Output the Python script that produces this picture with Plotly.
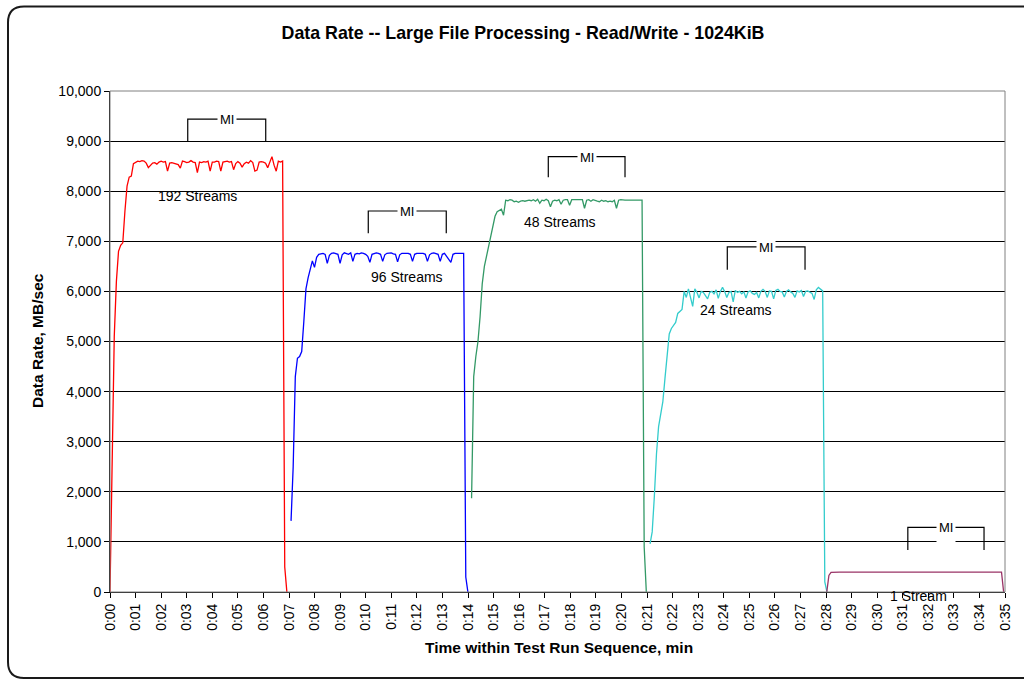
import plotly.graph_objects as go

# ---------------- data (5-second samples, time in minutes) ----------------
step_min = 5 / 60

s192_start = 0.0
s192_values = [0, 2900, 5100, 6200, 6800, 6920, 6970, 7600, 8100, 8280, 8300, 8550,
               8580, 8600, 8590, 8610, 8600, 8560, 8470, 8520, 8560, 8570, 8540, 8580,
               8600, 8580, 8590, 8400, 8560, 8570, 8560, 8550, 8530, 8460, 8600, 8590,
               8570, 8580, 8610, 8580, 8570, 8370, 8580, 8570, 8590, 8580, 8600, 8400,
               8580, 8580, 8600, 8590, 8400, 8580, 8590, 8600, 8580, 8590, 8430, 8550,
               8590, 8560, 8480, 8550, 8580, 8560, 8610, 8570, 8400, 8420, 8580, 8590,
               8580, 8560, 8470, 8600, 8690, 8520, 8400, 8600, 8580, 8600, 500, 0]

s96_start = 7.08
s96_values = [1420, 2500, 4300, 4665, 4700, 4800, 5400, 6050, 6270, 6450, 6610, 6480,
              6680, 6740, 6750, 6760, 6740, 6560, 6720, 6760, 6770, 6760, 6740, 6560,
              6730, 6770, 6760, 6740, 6770, 6600, 6740, 6760, 6750, 6770, 6760, 6740,
              6700, 6580, 6740, 6760, 6770, 6760, 6740, 6600, 6730, 6760, 6760, 6770,
              6750, 6740, 6590, 6730, 6760, 6760, 6750, 6760, 6740, 6600, 6740, 6760,
              6760, 6760, 6760, 6740, 6600, 6730, 6760, 6770, 6760, 6740, 6600, 6740,
              6760, 6700, 6640, 6580, 6740, 6760, 6760, 6760, 6760, 6760, 300, 0]

s48_start = 14.14
s48_values = [1870, 4300, 4700, 5000, 5500, 6150, 6500, 6700, 6950, 7150, 7330, 7500,
              7590, 7620, 7640, 7520, 7820, 7810, 7830, 7820, 7790, 7800, 7780, 7800,
              7810, 7800, 7810, 7820, 7810, 7830, 7800, 7840, 7760, 7820, 7810, 7840,
              7810, 7690, 7800, 7820, 7810, 7830, 7740, 7820, 7830, 7830, 7720, 7830,
              7830, 7830, 7830, 7830, 7830, 7660, 7820, 7830, 7800, 7830, 7810, 7800,
              7790, 7820, 7800, 7810, 7790, 7800, 7790, 7820, 7660, 7820, 7830, 7820,
              7820, 7820, 7820, 7820, 7820, 7820, 7820, 7820, 7820, 900, 0]

s24_start = 21.12
s24_values = [960, 1200, 1900, 2750, 3300, 3580, 3800, 4270, 4800, 5150, 5260, 5330,
              5380, 5560, 5600, 5640, 6000, 5880, 6050, 5900, 5700, 6050, 5980, 5870,
              6000, 5980, 5920, 5850, 5980, 6000, 5950, 6030, 5860, 6000, 6080, 6000,
              5880, 5980, 6000, 5790, 6020, 5980, 6000, 5950, 5990, 5870, 5990, 6010,
              5960, 5940, 5980, 5870, 6000, 6040, 6000, 5880, 6010, 6000, 5850, 6020,
              6040, 6000, 5990, 5890, 6000, 6030, 5990, 5960, 5880, 6010, 5990, 6020,
              5900, 6000, 6010, 5990, 5960, 5840, 6030, 6080, 6040, 6010, 200, 0]

s1_start = 28.03
s1_values = [0, 330, 390, 395, 395, 395, 395, 395, 395, 395, 395, 395,
             395, 395, 395, 395, 395, 395, 395, 395, 395, 395, 395, 395,
             395, 395, 395, 395, 395, 395, 395, 395, 395, 395, 395, 395,
             395, 395, 395, 395, 395, 395, 395, 395, 395, 395, 395, 395,
             395, 395, 395, 395, 395, 395, 395, 395, 395, 395, 395, 395,
             395, 395, 395, 395, 395, 395, 395, 395, 395, 395, 395, 395,
             395, 395, 395, 395, 395, 395, 395, 395, 395, 395, 395, 0]

series_names = ["192 Streams", "96 Streams", "48 Streams", "24 Streams", "1 Stream"]
series_starts = [s192_start, s96_start, s48_start, s24_start, s1_start]
series_values = [s192_values, s96_values, s48_values, s24_values, s1_values]
series_colors = ["#FF0000", "#0000FF", "#339966", "#33CCCC", "#993366"]

# stream labels (time, rate)
label_x = [3.44, 11.62, 17.6, 24.48, 31.6]
label_y = [7900, 6290, 7385, 5630, 0]
label_shift = [0, 0, 0, 0, -4]

# measurement interval brackets
mi_start = [3.04, 10.1, 17.14, 24.14, 31.2]
mi_end = [6.09, 13.15, 20.14, 27.18, 34.18]
mi_top = [9440, 7605, 8690, 6890, 1290]
mi_bottom = [9000, 7160, 8280, 6430, 840]

x_tick_vals = list(range(0, 36))
x_tick_text = ["0:%02d" % m for m in x_tick_vals]

title_text = "Data Rate -- Large File Processing - Read/Write - 1024KiB"
x_title = "Time within Test Run Sequence, min"
y_title = "Data Rate, MB/sec"

FONT = "Arial, 'Liberation Sans', sans-serif"

# ---------------- figure ----------------
fig = go.Figure()
for name, start, vals, col in zip(series_names, series_starts, series_values, series_colors):
    xs = [start + i * step_min for i in range(len(vals))]
    fig.add_trace(go.Scatter(x=xs, y=vals, mode="lines", name=name,
                             line=dict(color=col, width=1.3), showlegend=False,
                             cliponaxis=False, hoverinfo="skip"))

for name, lx, ly, sh in zip(series_names, label_x, label_y, label_shift):
    fig.add_annotation(x=lx, y=ly, yshift=sh, text=name, showarrow=False,
                       xanchor="center", yanchor="middle",
                       font=dict(family=FONT, size=14, color="#000000"))

for x0, x1, yt, yb in zip(mi_start, mi_end, mi_top, mi_bottom):
    fig.add_shape(type="path",
                  path=f"M {x0},{yb} L {x0},{yt} L {x1},{yt} L {x1},{yb}",
                  line=dict(color="#000000", width=1.2), layer="above")
    fig.add_annotation(x=(x0 + x1) / 2, y=yt, text="MI", showarrow=False,
                       xanchor="center",
                       font=dict(family=FONT, size=13, color="#000000"),
                       bgcolor="#FFFFFF", borderpad=2, height=26, valign="top",
                       yanchor="top", yshift=10)

# plot area border (gray)
fig.add_shape(type="rect", xref="paper", yref="paper", x0=0, x1=1, y0=0, y1=1,
              line=dict(color="#808080", width=1), layer="above")

# outer rounded frame (pixel -> paper conversion); right side runs off the page
L, T, PW, PH = 110, 91, 895, 501
def px(x):
    return (x - L) / PW
def py(y):
    return (T + PH - y) / PH
fl, ft, fr, fb, rad = 8, 6.5, 1060, 678, 16
frame_path = (f"M {px(fl)},{py(ft + rad)} Q {px(fl)},{py(ft)} {px(fl + rad)},{py(ft)} "
              f"L {px(fr)},{py(ft)} M {px(fr)},{py(fb)} "
              f"L {px(fl + rad)},{py(fb)} Q {px(fl)},{py(fb)} {px(fl)},{py(fb - rad)} "
              f"L {px(fl)},{py(ft + rad)}")
fig.add_shape(type="path", xref="paper", yref="paper", path=frame_path,
              line=dict(color="#1a1a1a", width=2), layer="above")

fig.add_annotation(xref="paper", yref="paper", x=px(559), y=py(647),
                   xanchor="center", yanchor="middle", text="<b>" + x_title + "</b>",
                   showarrow=False, font=dict(family=FONT, size=15.5, color="#000000"))
fig.add_annotation(xref="paper", yref="paper", x=px(37), y=py(341),
                   xanchor="center", yanchor="middle", text="<b>" + y_title + "</b>",
                   showarrow=False, textangle=-90,
                   font=dict(family=FONT, size=15.5, color="#000000"))

fig.update_layout(
    width=1024, height=680,
    margin=dict(l=L, r=1024 - L - PW, t=T, b=680 - T - PH),
    paper_bgcolor="#FFFFFF", plot_bgcolor="#FFFFFF",
    title=dict(text="<b>" + title_text + "</b>", x=523 / 1024, xanchor="center",
               y=1 - 33 / 680, yanchor="middle", xref="container", yref="container",
               font=dict(family=FONT, size=17.8, color="#000000")),
    font=dict(family=FONT, size=12, color="#000000"),
    showlegend=False,
    hovermode=False,
)
fig.update_xaxes(range=[0, 35], tickvals=x_tick_vals, ticktext=x_tick_text,
                 tickangle=-90, ticks="outside", ticklen=5, tickcolor="#000000",
                 showline=True, linecolor="#000000", linewidth=1,
                 showgrid=False, zeroline=False,
                 tickfont=dict(family=FONT, size=14, color="#000000"))
fig.update_yaxes(range=[0, 10000], dtick=1000, tickformat=",d",
                 ticks="outside", ticklen=5, tickcolor="#000000",
                 showline=True, linecolor="#000000", linewidth=1,
                 showgrid=True, gridcolor="#000000", gridwidth=1, zeroline=False,
                 tickfont=dict(family=FONT, size=14, color="#000000"))

fig.write_html("out.html", config={"displayModeBar": False},
               post_script="document.body.style.margin='0px';document.body.style.overflow='hidden';")
